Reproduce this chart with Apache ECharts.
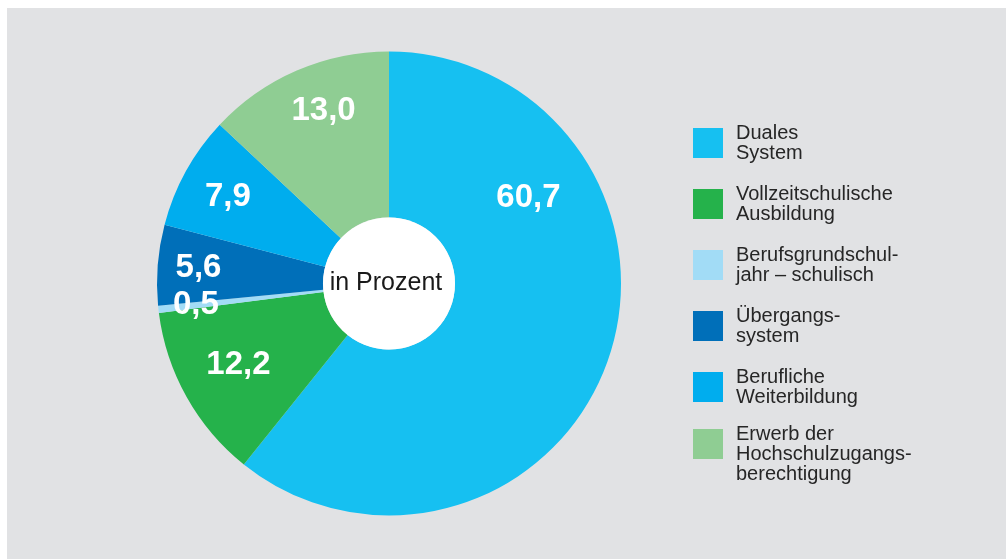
<!DOCTYPE html>
<html>
<head>
<meta charset="utf-8">
<script src="https://cdn.jsdelivr.net/npm/echarts@6/dist/echarts.min.js"></script>
<style>
  html, body { margin: 0; padding: 0; background: #ffffff; }
  #chart { width: 1006px; height: 559px; }
</style>
</head>
<body>
<div id="chart"></div>
<script>
// ---- data ----
const categories = [
  'Duales\nSystem',
  'Vollzeitschulische\nAusbildung',
  'Berufsgrundschul-\njahr – schulisch',
  'Übergangs-\nsystem',
  'Berufliche\nWeiterbildung',
  'Erwerb der\nHochschulzugangs-\nberechtigung'
];
const shares = [60.7, 12.2, 0.5, 5.6, 7.9, 13.0];
const centerText = 'in Prozent';

// ---- styles ----
const colors = ['#16c0f1', '#25b24b', '#a2dcf6', '#006fb9', '#00adee', '#8fcd93'];
const labelShift = [[-4, -136], [-18, 7], [-42, 4], [-39, -3], [-28, -13], [-5, -33]];
const CX = 389, CY = 283.5, R0 = 66, R1 = 232;

const pieData = categories.map((name, i) => ({
  name: name,
  value: shares[i],
  itemStyle: { color: colors[i] },
  label: { offset: labelShift[i] }
}));

const legendText = {
  fontFamily: 'Liberation Sans, Arial, sans-serif',
  fontSize: 20,
  lineHeight: 20,
  color: '#262626',
  padding: [0, 0, 0, 8]
};

const option = {
  animation: false,
  backgroundColor: '#ffffff',
  graphic: [
    { type: 'rect', z: -100, silent: true,
      shape: { x: 7, y: 8, width: 999, height: 551 },
      style: { fill: '#e1e2e4' } },
    { type: 'circle', z: 100, silent: true,
      shape: { cx: CX, cy: CY, r: R0 },
      style: { fill: '#ffffff' } },
    { type: 'text', z: 101, silent: true, x: CX - 3, y: CY,
      style: { text: centerText, fill: '#1a1a1a', fontSize: 25,
               fontFamily: 'Liberation Sans, Arial, sans-serif',
               align: 'center', verticalAlign: 'middle' } }
  ],
  legend: [
    {
      orient: 'vertical', left: 693, top: 123, padding: 0,
      itemWidth: 30, itemHeight: 30, itemGap: 21, icon: 'rect',
      selectedMode: false,
      data: categories.slice(0, 5),
      textStyle: legendText
    },
    {
      orient: 'vertical', left: 693, top: 404, padding: 0,
      itemWidth: 30, itemHeight: 30, icon: 'rect',
      selectedMode: false,
      data: categories.slice(5),
      formatter: n => '\n' + n,
      textStyle: legendText
    }
  ],
  series: [{
    type: 'pie',
    center: [CX, CY],
    radius: [R0, R1],
    startAngle: 90,
    clockwise: true,
    avoidLabelOverlap: false,
    silent: true,
    label: {
      show: true,
      position: 'inside',
      color: '#ffffff',
      fontSize: 33,
      fontWeight: 'bold',
      fontFamily: 'Liberation Sans, Arial, sans-serif',
      formatter: p => p.value.toFixed(1).replace('.', ',')
    },
    labelLine: { show: false },
    itemStyle: { borderWidth: 0 },
    data: pieData
  }]
};

const chart = echarts.init(document.getElementById('chart'), null, { renderer: 'canvas' });
chart.setOption(option);
</script>
</body>
</html>
